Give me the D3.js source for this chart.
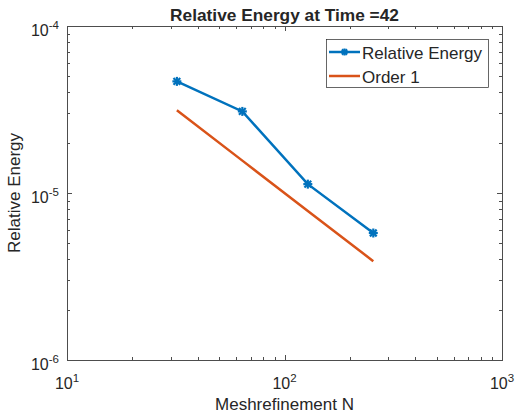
<!DOCTYPE html>
<html>
<head>
<meta charset="utf-8">
<script src="https://cdn.jsdelivr.net/npm/d3@7"></script>
<style>
  body { margin: 0; background: #fff; }
  text { font-family: "Liberation Sans", Arial, Helvetica, sans-serif; fill: #262626; }
</style>
</head>
<body>
<div id="chart-container"></div>
<script>
// values
const meshN = [32, 64, 128, 256];
const relEnergy = [4.66e-5, 3.08e-5, 1.13e-5, 5.76e-6];
const orderOne = [3.125e-5, 1.5625e-5, 7.8125e-6, 3.90625e-6];

const xTickExp = [1, 2, 3];
const yTickExp = [-6, -5, -4];
const legendLabels = ["Relative Energy", "Order 1"];

const blue = "#0072BD";
const orange = "#D95319";
const axisColor = "#4d4d4d";

const width = 516;
const height = 415;
const margin = ({ top: 26, right: 14, bottom: 55, left: 67 });

const svg = d3.select("#chart-container").append("svg")
    .attr("width", width)
    .attr("height", height);

const x = d3.scaleLog()
    .domain([10, 1000])
    .range([margin.left, width - margin.right]);

const y = d3.scaleLog()
    .domain([1e-6, 1e-4])
    .range([height - margin.bottom, margin.top]);

const x0 = x.range()[0], x1 = x.range()[1];
const y0 = y.range()[0], y1 = y.range()[1];

// minor ticks for each decade
function minorTicks(scale) {
    return scale.ticks().filter(d => Math.abs(Math.log10(d) - Math.round(Math.log10(d))) > 1e-9);
}

const gTicks = svg.append("g")
    .attr("stroke", axisColor)
    .attr("stroke-width", 1);

// x ticks, drawn inward on bottom and top
xTickExp.map(e => Math.pow(10, e)).forEach(function(d) {
    const px = Math.round(x(d)) + 0.5;
    gTicks.append("line").attr("x1", px).attr("x2", px).attr("y1", y0).attr("y2", y0 - 5);
    gTicks.append("line").attr("x1", px).attr("x2", px).attr("y1", y1).attr("y2", y1 + 5);
});
minorTicks(x).forEach(function(d) {
    const px = Math.round(x(d)) + 0.5;
    gTicks.append("line").attr("x1", px).attr("x2", px).attr("y1", y0).attr("y2", y0 - 3);
    gTicks.append("line").attr("x1", px).attr("x2", px).attr("y1", y1).attr("y2", y1 + 3);
});

// y ticks, left and right
yTickExp.map(e => Math.pow(10, e)).forEach(function(d) {
    const py = Math.round(y(d)) + 0.5;
    gTicks.append("line").attr("x1", x0).attr("x2", x0 + 5).attr("y1", py).attr("y2", py);
    gTicks.append("line").attr("x1", x1).attr("x2", x1 - 5).attr("y1", py).attr("y2", py);
});
minorTicks(y).forEach(function(d) {
    const py = Math.round(y(d)) + 0.5;
    gTicks.append("line").attr("x1", x0).attr("x2", x0 + 3).attr("y1", py).attr("y2", py);
    gTicks.append("line").attr("x1", x1).attr("x2", x1 - 3).attr("y1", py).attr("y2", py);
});

// axes box
svg.append("rect")
    .attr("x", Math.round(x0) + 0.5)
    .attr("y", Math.round(y1) + 0.5)
    .attr("width", Math.round(x1) - Math.round(x0))
    .attr("height", Math.round(y0) - Math.round(y1))
    .attr("fill", "none")
    .attr("stroke", axisColor)
    .attr("stroke-width", 1);

// tick labels as 10^e
function powerLabel(sel, e) {
    sel.append("tspan").text("10");
    sel.append("tspan")
        .attr("dy", -7)
        .attr("font-size", "11.5px")
        .text(e);
}

xTickExp.forEach(function(e) {
    svg.append("text")
        .attr("x", x(Math.pow(10, e)))
        .attr("y", y0 + 29)
        .attr("text-anchor", "middle")
        .attr("font-size", "16px")
        .call(powerLabel, e);
});

yTickExp.forEach(function(e) {
    svg.append("text")
        .attr("x", x0 - 8)
        .attr("y", y(Math.pow(10, e)) + 10)
        .attr("text-anchor", "end")
        .attr("font-size", "16px")
        .call(powerLabel, e);
});

// axis labels and title
svg.append("text")
    .attr("x", (x0 + x1) / 2)
    .attr("y", 410)
    .attr("text-anchor", "middle")
    .attr("font-size", "17px")
    .text("Meshrefinement N");

svg.append("text")
    .attr("transform", `translate(20, ${(y0 + y1) / 2}) rotate(-90)`)
    .attr("text-anchor", "middle")
    .attr("font-size", "17px")
    .text("Relative Energy");

svg.append("text")
    .attr("x", (x0 + x1) / 2)
    .attr("y", 21)
    .attr("text-anchor", "middle")
    .attr("font-size", "17.3px")
    .attr("font-weight", "bold")
    .attr("fill", "#000")
    .text("Relative Energy at Time =42");

// series
const line = d3.line()
    .x(d => x(d[0]))
    .y(d => y(d[1]));

svg.append("path")
    .datum(d3.zip(meshN, orderOne))
    .attr("d", line)
    .attr("fill", "none")
    .attr("stroke", orange)
    .attr("stroke-width", 2.5);

svg.append("path")
    .datum(d3.zip(meshN, relEnergy))
    .attr("d", line)
    .attr("fill", "none")
    .attr("stroke", blue)
    .attr("stroke-width", 2.5);

// asterisk markers like matlab '*'
function asterisk(sel, cx, cy, r) {
    const g = sel.append("g")
        .attr("transform", `translate(${cx},${cy})`)
        .attr("stroke", blue)
        .attr("stroke-width", 2.2);
    g.append("line").attr("x1", -r).attr("x2", r).attr("y1", 0).attr("y2", 0);
    g.append("line").attr("x1", 0).attr("x2", 0).attr("y1", -r).attr("y2", r);
    const q = r * 0.75;
    g.append("line").attr("x1", -q).attr("x2", q).attr("y1", -q).attr("y2", q);
    g.append("line").attr("x1", -q).attr("x2", q).attr("y1", q).attr("y2", -q);
}

d3.zip(meshN, relEnergy).forEach(function(d) {
    asterisk(svg, x(d[0]), y(d[1]), 4.5);
});

// legend
const gLegend = svg.append("g").attr("transform", "translate(326, 39)");
gLegend.append("rect")
    .attr("x", 0.5).attr("y", 0.5)
    .attr("width", 162).attr("height", 48)
    .attr("fill", "#fff")
    .attr("stroke", "#262626")
    .attr("stroke-width", 0.7);

const legendColors = [blue, orange];
legendLabels.forEach(function(label, i) {
    const ly = 13 + i * 24;
    gLegend.append("line")
        .attr("x1", 3).attr("x2", 34)
        .attr("y1", ly).attr("y2", ly)
        .attr("stroke", legendColors[i])
        .attr("stroke-width", 2.5);
    if (i == 0) asterisk(gLegend, 18.5, ly, 3.5);
    gLegend.append("text")
        .attr("x", 36)
        .attr("y", ly + 7)
        .attr("font-size", "17px")
        .attr("fill", "#000")
        .text(label);
});
</script>
</body>
</html>
